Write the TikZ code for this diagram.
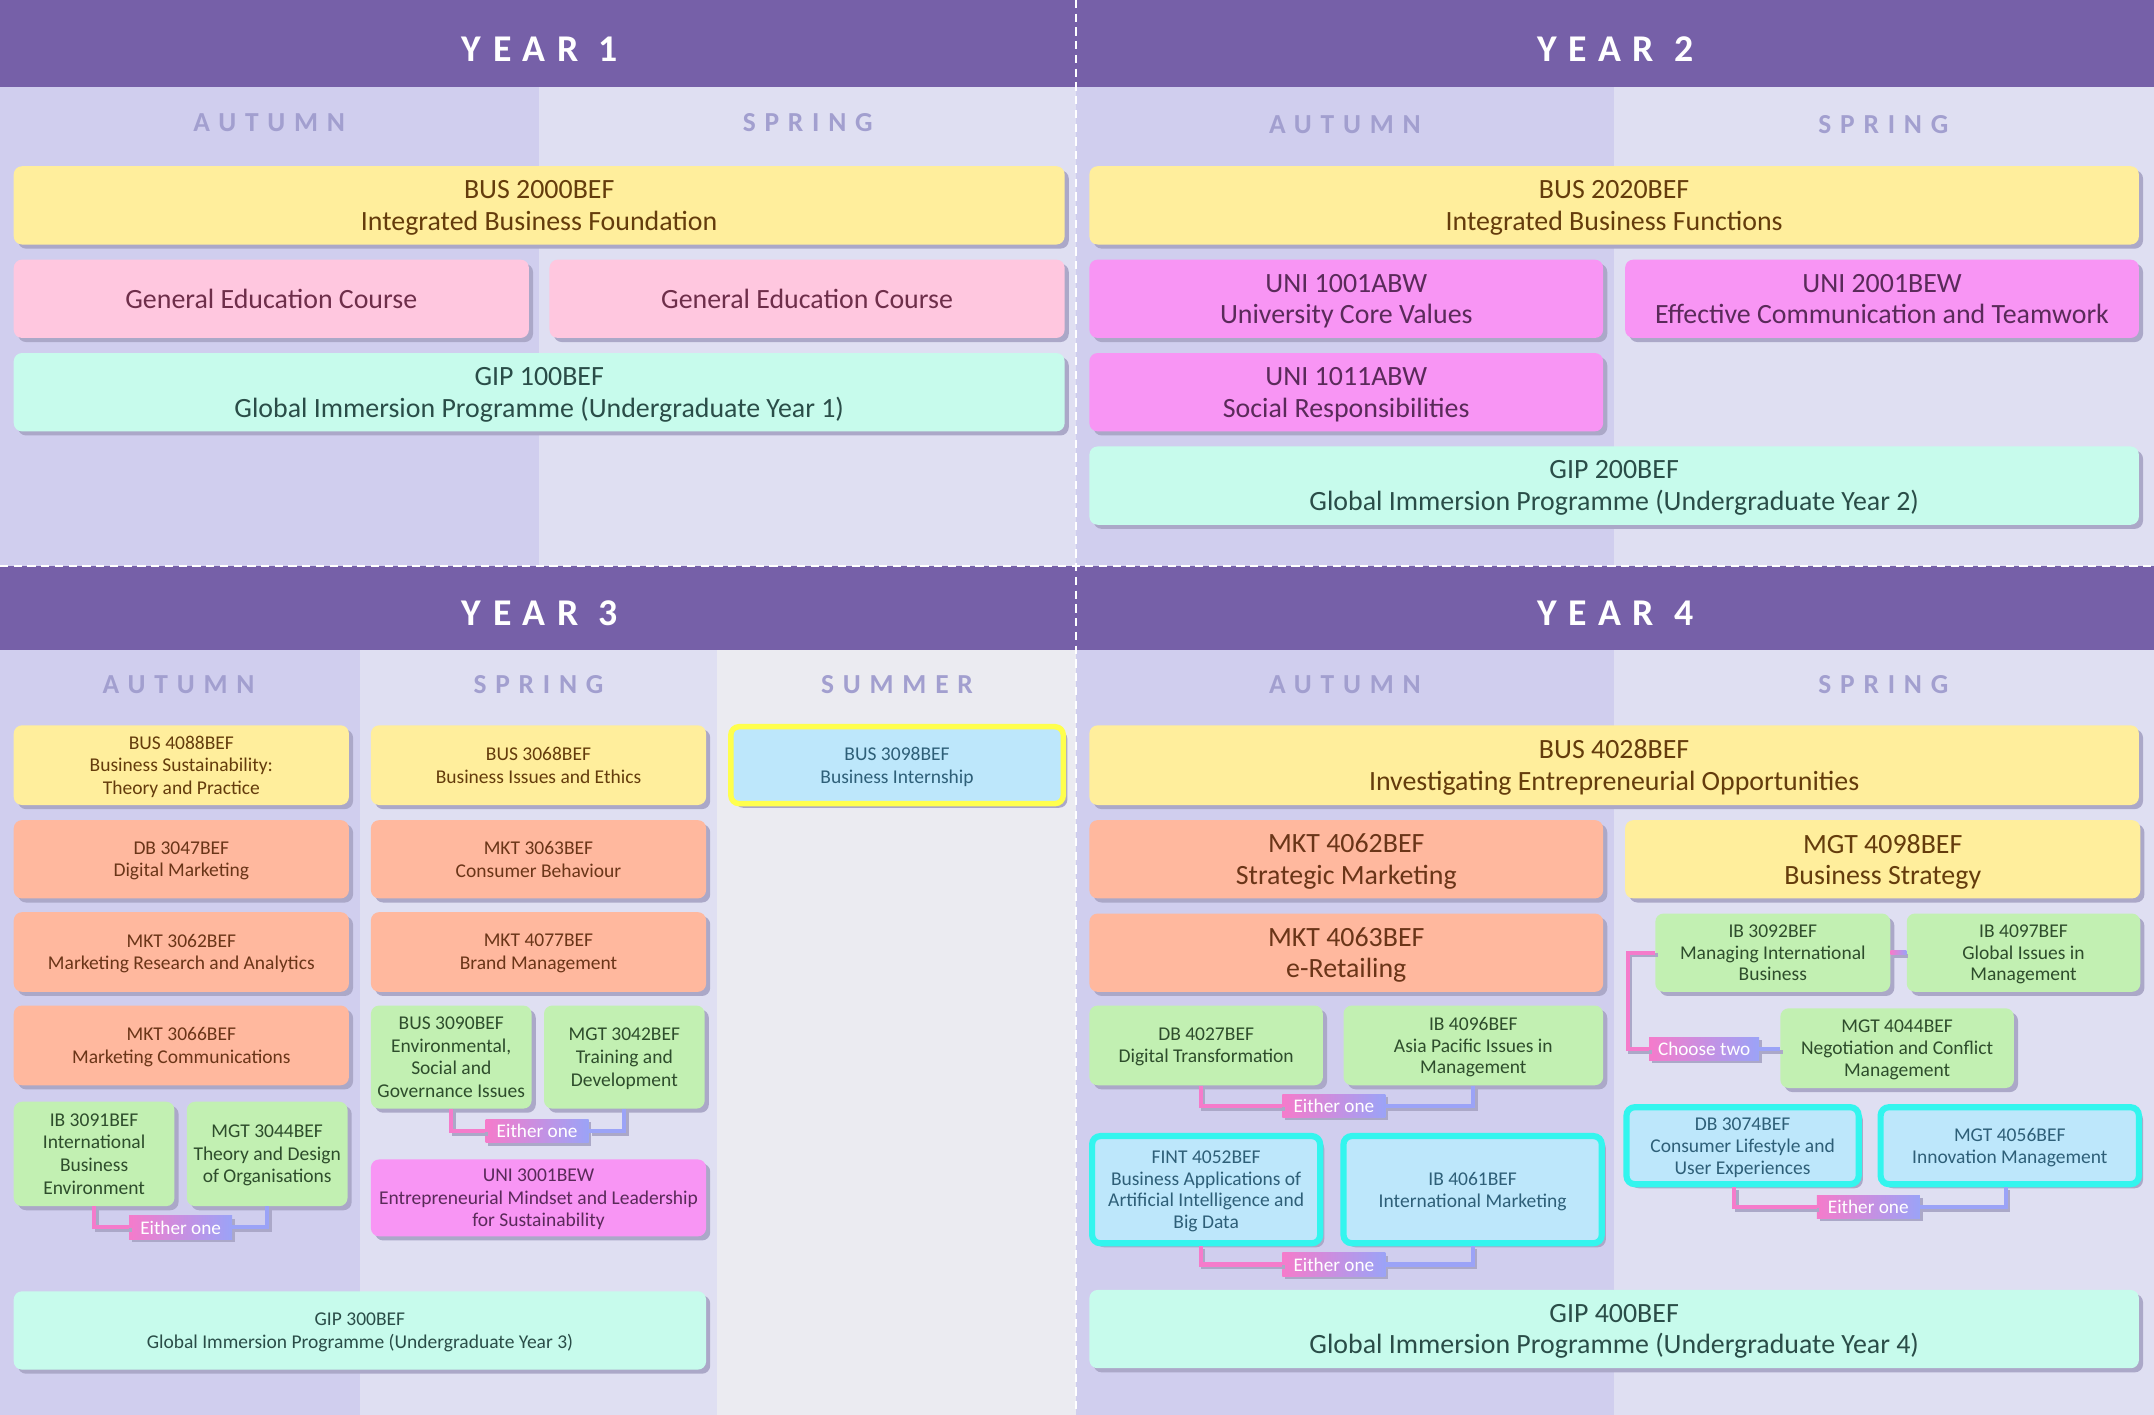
\documentclass[tikz,border=0pt]{standalone}
\usepackage{fontspec}
\setmainfont{Carlito}
\newfontfamily\hdfont[LetterSpace=31]{Carlito}
\newfontfamily\ssfont[LetterSpace=32]{Carlito}
\usetikzlibrary{shadows}
\definecolor{hdr}{HTML}{7660A8}
\definecolor{autc}{HTML}{D0CEEE}
\definecolor{sprc}{HTML}{DFDFF2}
\definecolor{sumc}{HTML}{EBEBF1}
\definecolor{seasc}{HTML}{A29FCF}
\definecolor{shadowc}{HTML}{ABA8C8}
\definecolor{yelf}{HTML}{FFEE9C}\definecolor{yelt}{HTML}{643C0C}
\definecolor{pnkf}{HTML}{FFC7DF}\definecolor{pnkt}{HTML}{6E2E4A}
\definecolor{mntf}{HTML}{C7FBEC}\definecolor{mntt}{HTML}{2A4D48}
\definecolor{magf}{HTML}{F895F4}\definecolor{magt}{HTML}{5A2A5A}
\definecolor{salf}{HTML}{FFB89E}\definecolor{salt}{HTML}{6A3518}
\definecolor{grnf}{HTML}{C2F0B2}\definecolor{grnt}{HTML}{2E4D2C}
\definecolor{bluf}{HTML}{BDE7FB}\definecolor{blut}{HTML}{2E5F78}
\definecolor{cyanb}{HTML}{33F5EE}
\definecolor{sumb}{HTML}{FFFF4D}
\definecolor{pinkc}{HTML}{F57BCB}
\definecolor{bluec}{HTML}{9BA3F7}
\tikzset{
  cbox/.style={rounded corners=6pt, inner sep=2pt, align=center, text depth=0pt,
    drop shadow={shadow xshift=3pt, shadow yshift=-3pt, fill=shadowc, opacity=1}},
  big/.style={font=\fontsize{20.3}{23}\selectfont},
  small/.style={font=\fontsize{14.2}{16.5}\selectfont},
  smallb/.style={font=\fontsize{14.2}{16}\selectfont},
  yel/.style={cbox, fill=yelf, text=yelt},
  pnk/.style={cbox, fill=pnkf, text=pnkt},
  mnt/.style={cbox, fill=mntf, text=mntt},
  mag/.style={cbox, fill=magf, text=magt},
  sal/.style={cbox, fill=salf, text=salt},
  grn/.style={cbox, fill=grnf, text=grnt},
  blu/.style={cbox, fill=bluf, text=blut},
  cyn/.style={cbox, fill=bluf, text=blut, draw=cyanb, line width=4.5pt},
  smr/.style={cbox, fill=bluf, text=blut, draw=sumb, line width=4pt},
  yeartxt/.style={anchor=base, text=white, font=\hdfont\fontsize{27.5}{30}\selectfont\bfseries},
  seastxt/.style={anchor=base, text=seasc, font=\ssfont\fontsize{20}{22}\selectfont\bfseries},
  lab/.style={minimum width=75pt, minimum height=17pt, inner sep=0pt, text=white,
    font=\fontsize{14}{15}\selectfont, left color=pinkc, right color=bluec,
    drop shadow={shadow xshift=2pt, shadow yshift=-2pt, fill=shadowc, opacity=1}},
  conn/.style={line width=3pt, preaction={draw=shadowc, line width=3pt, transform canvas={xshift=2pt, yshift=-2pt}}},
  divider/.style={draw=white, line width=1.6pt, dash pattern=on 6pt off 4pt}
}
\newcommand\course[7]{\node[#6, minimum width={#4-#2}, minimum height={#5-#3}] (#1) at ({(#2+#4)/2},{(#3+#5)/2}) {#7};}
\begin{document}
\begin{tikzpicture}[x=1pt,y=-1pt]
\useasboundingbox (0,0) rectangle (1568,1030);
% backgrounds
\fill[autc] (0,63) rectangle (392,412);
\fill[sprc] (392,63) rectangle (783,412);
\fill[autc] (783,63) rectangle (1175,412);
\fill[sprc] (1175,63) rectangle (1568,412);
\fill[hdr] (0,0) rectangle (1568,63);
\fill[hdr] (0,412) rectangle (1568,473);
\fill[autc] (0,473) rectangle (262,1030);
\fill[sprc] (262,473) rectangle (522,1030);
\fill[sumc] (522,473) rectangle (783,1030);
\fill[autc] (783,473) rectangle (1175,1030);
\fill[sprc] (1175,473) rectangle (1568,1030);
\draw[divider] (783,0) -- (783,1030);
\draw[divider] (0,412) -- (1568,412);
% headers
\node[yeartxt] (y1) at (393,45) {YEAR 1};
\node[yeartxt] (y2) at (1176,45) {YEAR 2};
\node[yeartxt] (y3) at (393,455) {YEAR 3};
\node[yeartxt] (y4) at (1176,455) {YEAR 4};
\node[seastxt] (s1a) at (196,96) {AUTUMN};
\node[seastxt] (s1s) at (588,96) {SPRING};
\node[seastxt] (s2a) at (979,97) {AUTUMN};
\node[seastxt] (s2s) at (1371,97) {SPRING};
\node[seastxt] (s3a) at (130,505) {AUTUMN};
\node[seastxt] (s3s) at (392,505) {SPRING};
\node[seastxt] (s3m) at (653,505) {SUMMER};
\node[seastxt] (s4a) at (979,505) {AUTUMN};
\node[seastxt] (s4s) at (1371,505) {SPRING};
% Year 1
\course{bus2000}{10}{121}{775}{178}{yel,big}{BUS 2000BEF\\Integrated Business Foundation}
\course{ge1}{10}{189}{385}{246}{pnk,big}{General Education Course}
\course{ge2}{400}{189}{775}{246}{pnk,big}{General Education Course}
\course{gip100}{10}{257}{775}{314}{mnt,big}{GIP 100BEF\\Global Immersion Programme (Undergraduate Year 1)}
% Year 2
\course{bus2020}{793}{121}{1557}{178}{yel,big}{BUS 2020BEF\\Integrated Business Functions}
\course{uni1001}{793}{189}{1167}{246}{mag,big}{UNI 1001ABW\\University Core Values}
\course{uni2001}{1183}{189}{1557}{246}{mag,big}{UNI 2001BEW\\Effective Communication and Teamwork}
\course{uni1011}{793}{257}{1167}{314}{mag,big}{UNI 1011ABW\\Social Responsibilities}
\course{gip200}{793}{325}{1557}{382}{mnt,big}{GIP 200BEF\\Global Immersion Programme (Undergraduate Year 2)}
% Year 3 autumn
\course{bus4088}{10}{528}{254}{586}{yel,small}{BUS 4088BEF\\Business Sustainability:\\Theory and Practice}
\course{db3047}{10}{597}{254}{654}{sal,small}{DB 3047BEF\\Digital Marketing}
\course{mkt3062}{10}{664}{254}{722}{sal,small}{MKT 3062BEF\\Marketing Research and Analytics}
\course{mkt3066}{10}{732}{254}{790}{sal,small}{MKT 3066BEF\\Marketing Communications}
\course{ib3091}{10}{802}{127}{878}{grn,small}{IB 3091BEF\\International\\Business\\Environment}
\course{mgt3044}{136}{802}{253}{878}{grn,small}{MGT 3044BEF\\Theory and Design\\of Organisations}
% Year 3 spring
\course{bus3068}{270}{528}{514}{586}{yel,small}{BUS 3068BEF\\Business Issues and Ethics}
\course{mkt3063}{270}{597}{514}{654}{sal,small}{MKT 3063BEF\\Consumer Behaviour}
\course{mkt4077}{270}{664}{514}{722}{sal,small}{MKT 4077BEF\\Brand Management}
\course{bus3090}{270}{732}{387}{807}{grn,small}{BUS 3090BEF\\Environmental,\\Social and\\Governance Issues}
\course{mgt3042}{396}{732}{513}{807}{grn,small}{MGT 3042BEF\\Training and\\Development}
\course{uni3001}{270}{844}{514}{900}{mag,small}{UNI 3001BEW\\Entrepreneurial Mindset and Leadership\\for Sustainability}
\course{gip300}{10}{940}{514}{997}{mnt,small}{GIP 300BEF\\Global Immersion Programme (Undergraduate Year 3)}
% Summer
\course{bus3098}{532}{529}{774}{585}{smr,small}{BUS 3098BEF\\Business Internship}
% Year 4
\course{bus4028}{793}{528}{1557}{586}{yel,big}{BUS 4028BEF\\Investigating Entrepreneurial Opportunities}
\course{mkt4062}{793}{597}{1167}{654}{sal,big}{MKT 4062BEF\\Strategic Marketing}
\course{mkt4063}{793}{665}{1167}{722}{sal,big}{MKT 4063BEF\\e-Retailing}
\course{mgt4098}{1183}{597}{1558}{654}{yel,big}{MGT 4098BEF\\Business Strategy}
\course{ib3092}{1205}{665}{1376}{722}{grn,smallb}{IB 3092BEF\\Managing International\\Business}
\course{ib4097}{1388}{665}{1558}{722}{grn,smallb}{IB 4097BEF\\Global Issues in\\Management}
\course{mgt4044}{1296}{734}{1466}{792}{grn,smallb}{MGT 4044BEF\\Negotiation and Conflict\\Management}
\course{db4027}{793}{732}{963}{790}{grn,smallb}{DB 4027BEF\\Digital Transformation}
\course{ib4096}{978}{732}{1167}{790}{grn,smallb}{IB 4096BEF\\Asia Pacific Issues in\\Management}
\course{fint4052}{795}{827}{961}{905}{cyn,smallb}{FINT 4052BEF\\Business Applications of\\Artificial Intelligence and\\Big Data}
\course{ib4061}{978}{827}{1166}{905}{cyn,smallb}{IB 4061BEF\\International Marketing}
\course{db3074}{1184}{806}{1353}{862}{cyn,smallb}{DB 3074BEF\\Consumer Lifestyle and\\User Experiences}
\course{mgt4056}{1369}{806}{1557}{862}{cyn,smallb}{MGT 4056BEF\\Innovation Management}
\course{gip400}{793}{939}{1557}{996}{mnt,big}{GIP 400BEF\\Global Immersion Programme (Undergraduate Year 4)}
% connectors
\node[lab] (e1) at (131.5,893.5) {Either one};
\draw[conn, pinkc] (ib3091.south) |- (e1.west);
\draw[conn, bluec] (mgt3044.south) |- (e1.east);
\node[lab] (e2) at (391,823.5) {Either one};
\draw[conn, pinkc] (bus3090.south) |- (e2.west);
\draw[conn, bluec] (mgt3042.south) |- (e2.east);
\node[lab] (e3) at (971,805) {Either one};
\draw[conn, pinkc] ([xshift=-4pt]db4027.south) |- (e3.west);
\draw[conn, bluec] (ib4096.south) |- (e3.east);
\node[lab] (e4) at (971,920.5) {Either one};
\draw[conn, pinkc] ([xshift=-4pt]fint4052.south) |- (e4.west);
\draw[conn, bluec] (ib4061.south) |- (e4.east);
\node[lab] (e5) at (1360,878.5) {Either one};
\draw[conn, pinkc] ([xshift=-6pt]db3074.south) |- (e5.west);
\draw[conn, bluec] ([xshift=-3pt]mgt4056.south) |- (e5.east);
\node[lab, minimum width=80pt] (ch) at (1240.5,763.5) {Choose two};
\draw[conn, pinkc] (ib3092.west) -- ++(-20,0) |- (ch.west);
\draw[conn, bluec] (ch.east) -- (mgt4044.west |- ch.east);
\fill[shadowc] ([shift={(1pt,-1pt)}]ib3092.east) rectangle ([shift={(1pt,-4pt)}]ib4097.west);
\shade[left color=pinkc, right color=bluec] ([yshift=1.5pt]ib3092.east) rectangle ([yshift=-1.5pt]ib4097.west);
\end{tikzpicture}
\end{document}
